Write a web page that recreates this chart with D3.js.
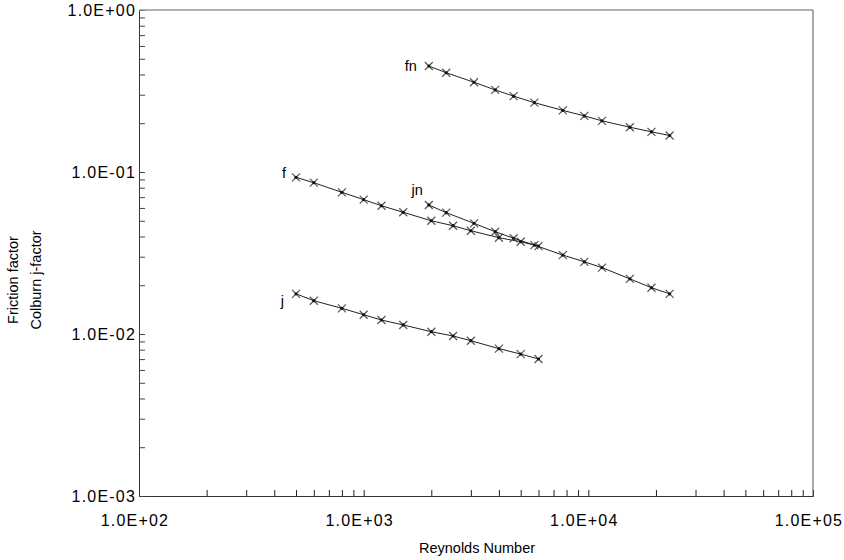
<!DOCTYPE html>
<html>
<head>
<meta charset="utf-8">
<script src="https://cdnjs.cloudflare.com/ajax/libs/d3/7.8.5/d3.min.js"></script>
<style>
  body { margin: 0; background: #fff; }
  svg { font-family: "Liberation Sans", Arial, sans-serif; }
  .lbl { font-size: 14.5px; fill: #000; }
  .tk { font-size: 16px; fill: #000; letter-spacing: 1.2px; }
</style>
</head>
<body>
<div id="chart"></div>
<script>
// Reynolds numbers and factors
var reLow  = [500, 600, 800, 1000, 1200, 1500, 2000, 2500, 3000, 4000, 5000, 6000];
var reHigh = [1950, 2330, 3100, 3850, 4650, 5750, 7700, 9600, 11500, 15300, 19100, 23000];

var fVals  = [0.0927, 0.0859, 0.0749, 0.0675, 0.0619, 0.0564, 0.0500, 0.0466, 0.0434, 0.0393, 0.0371, 0.0349];
var jVals  = [0.0177, 0.01605, 0.0144, 0.01315, 0.0122, 0.01137, 0.01033, 0.00972, 0.00909, 0.00812, 0.00752, 0.00701];
var fnVals = [0.451, 0.410, 0.358, 0.321, 0.294, 0.268, 0.240, 0.222, 0.207, 0.189, 0.177, 0.168];
var jnVals = [0.0626, 0.0561, 0.0482, 0.0428, 0.0390, 0.0354, 0.0307, 0.0279, 0.0257, 0.0219, 0.0193, 0.0177];

var seriesNames = ["fn", "f", "jn", "j"];
var xTickLabels = ["1.0E+02", "1.0E+03", "1.0E+04", "1.0E+05"];
var yTickLabels = ["1.0E-03", "1.0E-02", "1.0E-01", "1.0E+00"];

var W = 844, H = 560;
var svg = d3.select("#chart").append("svg").attr("width", W).attr("height", H);

var x = d3.scaleLog().domain([100, 1e5]).range([139, 813]);
var y = d3.scaleLog().domain([1e-3, 1]).range([496, 10]);

// minor + major ticks (log)
var xt = [], yt = [];
for (var e = 2; e < 5; e++) for (var m = 1; m < 10; m++) xt.push(m * Math.pow(10, e));
xt.push(1e5);
for (var e2 = -3; e2 < 0; e2++) for (var m2 = 1; m2 < 10; m2++) yt.push(m2 * Math.pow(10, e2));

var bottom = d3.axisBottom(x).tickValues(xt).tickSize(-6).tickFormat("");
svg.append("g").attr("transform", "translate(0,496)").call(bottom)
  .call(function(g){ g.select(".domain").attr("stroke", "#333"); g.selectAll("line").attr("stroke", "#222"); });

var left = d3.axisLeft(y).tickValues(yt).tickSize(-6).tickFormat("");
svg.append("g").attr("transform", "translate(139,0)").call(left)
  .call(function(g){ g.select(".domain").attr("stroke", "#333"); g.selectAll("line").attr("stroke", "#444"); });

// top and right frame
svg.append("line").attr("x1", 139).attr("x2", 813).attr("y1", 10).attr("y2", 10).attr("stroke", "#999").attr("stroke-width", 1.5);
svg.append("line").attr("x1", 813).attr("x2", 813).attr("y1", 10).attr("y2", 496).attr("stroke", "#555");

// tick labels
svg.selectAll(".xl").data(xTickLabels).enter().append("text").attr("class", "tk")
  .attr("x", function(d, i){ return x(Math.pow(10, i + 2)) - 4; }).attr("y", 526)
  .attr("text-anchor", "middle").text(function(d){ return d; });
svg.selectAll(".yl").data(yTickLabels).enter().append("text").attr("class", "tk")
  .attr("x", 136).attr("y", function(d, i){ return y(Math.pow(10, i - 3)) + 6; })
  .attr("text-anchor", "end").text(function(d){ return d; });

// axis titles
svg.append("text").attr("class", "lbl").attr("x", 477).attr("y", 553).attr("text-anchor", "middle").text("Reynolds Number");
svg.append("text").attr("class", "lbl").attr("transform", "translate(18,280) rotate(-90)").attr("text-anchor", "middle").text("Friction factor");
svg.append("text").attr("class", "lbl").attr("transform", "translate(41,280) rotate(-90)").attr("text-anchor", "middle").text("Colburn j-factor");

var series = [
  { name: seriesNames[0], re: reHigh, v: fnVals, lx: -12, ly: 5 },
  { name: seriesNames[1], re: reLow,  v: fVals,  lx: -10, ly: 1 },
  { name: seriesNames[2], re: reHigh, v: jnVals, lx: -6,  ly: -10 },
  { name: seriesNames[3], re: reLow,  v: jVals,  lx: -12, ly: 12 }
];

var line = d3.line().x(function(d){ return x(d[0]); }).y(function(d){ return y(d[1]); });

series.forEach(function(s){
  var pts = s.re.map(function(r, i){ return [r, s.v[i]]; });
  svg.append("path").datum(pts).attr("d", line).attr("fill", "none").attr("stroke", "#222").attr("stroke-width", 1);
  var mk = svg.append("g").selectAll("g").data(pts).enter().append("g")
    .attr("transform", function(d){ return "translate(" + x(d[0]) + "," + y(d[1]) + ")"; });
  mk.append("path").attr("d", "M-4,-4L4,4M-4,4L4,-4").attr("stroke", "#555").attr("stroke-width", 1.2);
  mk.append("circle").attr("r", 1.6).attr("fill", "#111");
  svg.append("text").attr("class", "lbl")
    .attr("x", x(s.re[0]) + s.lx).attr("y", y(s.v[0]) + s.ly)
    .attr("text-anchor", "end").text(s.name);
});
</script>
</body>
</html>
